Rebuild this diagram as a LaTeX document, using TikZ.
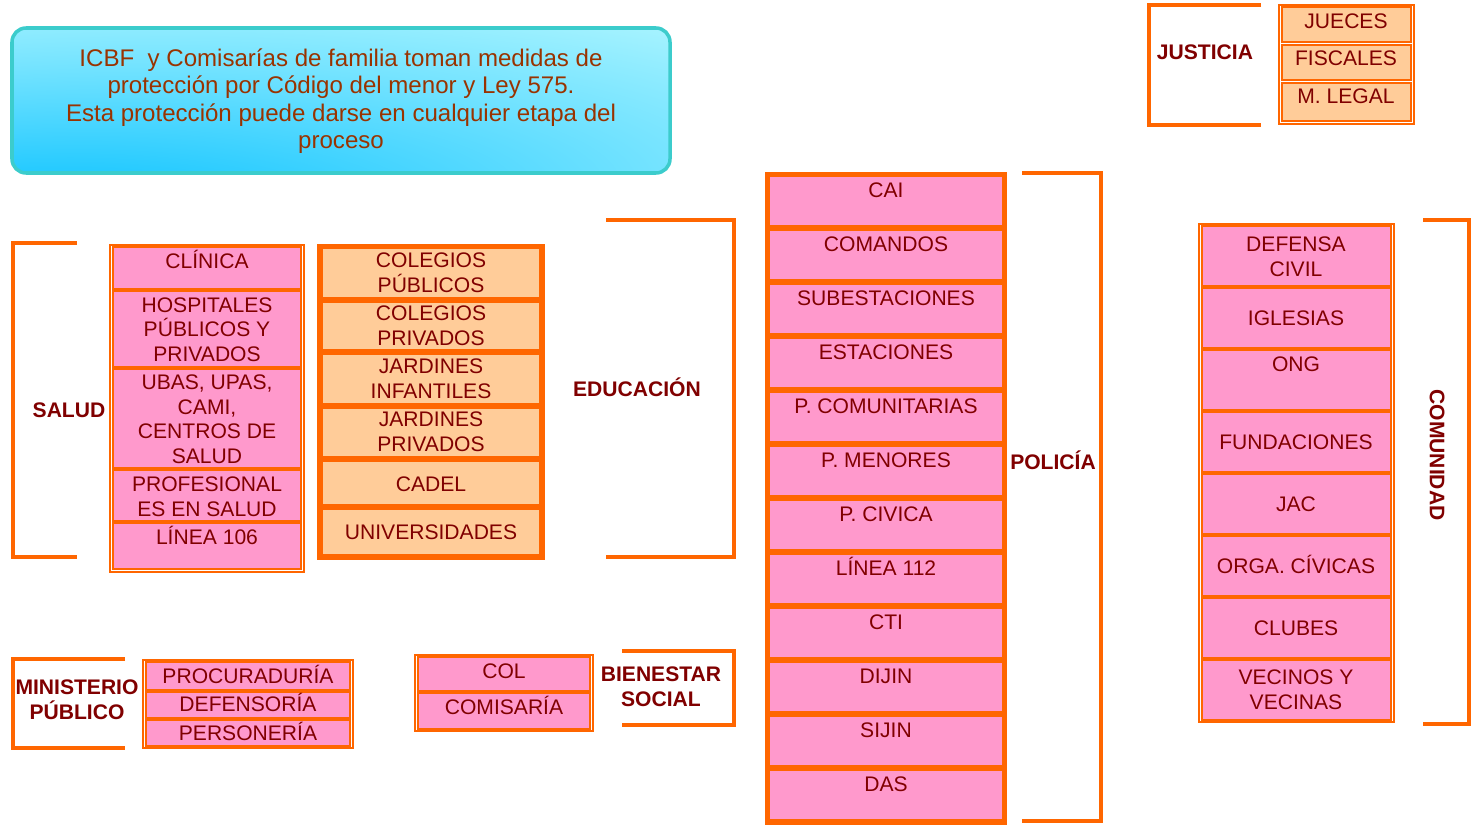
\documentclass[tikz,border=0pt]{standalone}
\usepackage{fontspec}
\setmainfont{Liberation Sans}
\definecolor{naranja}{HTML}{FF6600}
\definecolor{rosado}{HTML}{FF99CC}
\definecolor{durazno}{HTML}{FFCC99}
\definecolor{granate}{HTML}{800000}
\definecolor{ladrillo}{HTML}{993300}
\definecolor{turquesa}{HTML}{3CCCCC}
\definecolor{celeste}{HTML}{CCFFFF}
\definecolor{azulcielo}{HTML}{1EC8FF}
\pgfdeclareradialshading{avisosombra}{\pgfpoint{-25bp}{-45bp}}{color(0bp)=(azulcielo); color(12bp)=(azulcielo); color(40bp)=(azulcielo!50!celeste); color(70bp)=(celeste); color(100bp)=(celeste)}

\begin{document}
\begin{tikzpicture}[x=0.02cm, y=-0.02cm,
  llave/.style={draw=naranja, line width=2.3pt},
  marco/.style={draw=naranja, line width=1pt, fill=white},
  rosa/.style={draw=naranja, line width=1.4pt, fill=rosado},
  pera/.style={draw=naranja, line width=2pt, fill=durazno},
  celda/.style={font=\fontsize{12}{13.9}\selectfont, text=granate, align=center, anchor=base, inner sep=0pt},
  grupo/.style={font=\bfseries\fontsize{12}{14.2}\selectfont, text=granate, align=center, inner sep=0pt}]
\useasboundingbox (0,0) rectangle (1479,828);

% Cuadro de aviso
\draw[draw=turquesa, line width=2pt, rounded corners=8pt, shading=avisosombra] (12,28) rectangle (670,173);
\node (aviso) [font=\fontsize{13.7}{15.6}\selectfont, text=ladrillo, align=center, inner sep=0pt] at (341,101)
  {ICBF\ \ y Comisarías de familia toman medidas de\\protección por Código del menor y Ley 575.\\Esta protección puede darse en cualquier etapa del\\proceso};

% Salud (y = linea base de la ultima linea)
\draw[llave] (77,243) -- (13,243) -- (13,557) -- (77,557);
\node (salud) [grupo] at (69,410) {SALUD};
\draw[marco] (110,245) rectangle (304,572);
\foreach \yt/\yb/\yl/\txt [count=\i] in {247/289/268/CLÍNICA, 291/367/361/{HOSPITALES\\PÚBLICOS Y\\PRIVADOS},
    369/468/463/{UBAS, UPAS,\\CAMI,\\CENTROS DE\\SALUD}, 470/521/516/{PROFESIONAL\\ES EN SALUD}, 523/569/544/{LÍNEA 106}} {
  \draw[rosa] (113,\yt) rectangle (301,\yb);
  \node (sal\i) [celda] at (207,\yl) {\txt};
}

% Educacion
\draw[marco] (318,245) rectangle (544,559);
\foreach \yt/\yb/\yl/\txt [count=\i] in {247/299/292/{COLEGIOS\\PÚBLICOS}, 301/351/345/{COLEGIOS\\PRIVADOS},
    353/405/398/{JARDINES\\INFANTILES}, 407/458/451/{JARDINES\\PRIVADOS}, 460/506/491/CADEL, 508/556/539/UNIVERSIDADES} {
  \draw[pera] (321,\yt) rectangle (541,\yb);
  \node (edu\i) [celda] at (431,\yl) {\txt};
}
\draw[llave] (606,220) -- (734,220) -- (734,557) -- (606,557);
\node (educacion) [grupo] at (637,387) {EDUCACIÓN};

% Policia
\draw[marco] (766,173) rectangle (1006,824);
\foreach \txt [count=\i] in {CAI, COMANDOS, SUBESTACIONES, ESTACIONES, P. COMUNITARIAS, P. MENORES,
    P. CIVICA, LÍNEA 112, CTI, DIJIN, SIJIN, DAS} {
  \pgfmathsetmacro{\yt}{175+54*(\i-1)}
  \draw[pera, fill=rosado] (768,\yt) rectangle (1004,\yt+52);
  \node (pol\i) [celda] at (886,\yt+22) {\txt};
}
\draw[llave] (1022,173) -- (1101,173) -- (1101,821) -- (1022,821);
\node (policia) [grupo] at (1053,460) {POLICÍA};

% Justicia
\draw[llave] (1261,5) -- (1149,5) -- (1149,125) -- (1261,125);
\node (justicia) [grupo] at (1205,52) {JUSTICIA};
\draw[marco] (1279,5) rectangle (1414,124);
\foreach \yt/\yb/\yl/\txt [count=\i] in {7/42/29/JUECES, 45/80/66/FISCALES, 83/121/104/{M. LEGAL}} {
  \draw[pera, line width=1.4pt] (1282,\yt) rectangle (1411,\yb);
  \node (jus\i) [celda] at (1346,\yl) {\txt};
}

% Comunidad
\draw[marco] (1199,224) rectangle (1394,722);
\foreach \yt/\yb/\yl/\txt [count=\i] in {226/286/276/{DEFENSA\\CIVIL}, 288/348/325/IGLESIAS, 350/410/371/ONG,
    412/472/449/FUNDACIONES, 474/534/511/JAC, 536/596/573/{ORGA. CÍVICAS}, 598/658/635/CLUBES,
    660/720/709/{VECINOS Y\\VECINAS}} {
  \draw[rosa] (1202,\yt) rectangle (1391,\yb);
  \node (com\i) [celda] at (1296,\yl) {\txt};
}
\draw[llave] (1423,220) -- (1469,220) -- (1469,724) -- (1423,724);
\node (comunidad) [grupo, rotate=-90] at (1437,455) {COMUNIDAD};

% Ministerio publico
\draw[llave] (125,659) -- (13,659) -- (13,748) -- (125,748);
\node (ministerio) [grupo] at (77,700) {MINISTERIO\\PÚBLICO};
\draw[marco] (143,660) rectangle (353,748);
\foreach \yt/\yb/\yl/\txt [count=\i] in {662/690/683/PROCURADURÍA, 692/718/711/DEFENSORÍA, 720/746/740/PERSONERÍA} {
  \draw[rosa] (146,\yt) rectangle (350,\yb);
  \node (min\i) [celda] at (248,\yl) {\txt};
}

% Bienestar social
\draw[marco] (415,655) rectangle (593,731);
\foreach \yt/\yb/\yl/\txt [count=\i] in {657/691/678/COL, 693/729/714/COMISARÍA} {
  \draw[rosa] (418,\yt) rectangle (590,\yb);
  \node (bie\i) [celda] at (504,\yl) {\txt};
}
\draw[llave] (622,651) -- (734,651) -- (734,725) -- (622,725);
\node (bienestar) [grupo] at (661,687) {BIENESTAR\\SOCIAL};
\end{tikzpicture}
\end{document}
